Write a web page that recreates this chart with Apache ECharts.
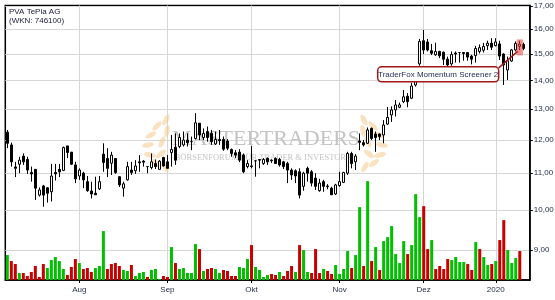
<!DOCTYPE html>
<html><head><meta charset="utf-8">
<script src="https://cdn.jsdelivr.net/npm/echarts@6/dist/echarts.min.js"></script>
<style>html,body{margin:0;padding:0;background:#fff}#c{width:555px;height:300px}</style>
</head><body><div id="c"></div>
<script>
// ---------- data ----------
const stockName = 'PVA TePla AG';
const stockId = '(WKN: 746100)';
const startDate = '2019-07-08';
const holidays = ['2019-10-03','2019-12-24','2019-12-25','2019-12-26','2019-12-31','2020-01-01'];
const tradingDayCount = 130;
const monthNames = ['Jan','Feb','Mär','Apr','Mai','Jun','Jul','Aug','Sep','Okt','Nov','Dez'];
const priceTicks = [9,10,11,12,13,14,15,16,17];

const open = [12.24,11.84,11.18,11.26,11.50,11.40,11.02,11.11,10.39,10.64,10.59,10.48,11.02,11.11,11.08,11.81,11.62,11.24,10.92,11.00,
10.76,10.50,10.44,10.56,11.56,11.43,11.29,11.43,10.90,10.58,10.81,11.09,11.07,11.33,11.35,11.19,11.16,11.28,11.11,11.46,
11.33,11.61,11.77,11.79,11.84,11.99,11.94,12.04,12.53,12.07,12.26,12.20,11.87,12.01,12.01,11.96,11.70,11.60,11.62,11.53,
11.19,11.21,11.36,11.40,11.28,11.43,11.36,11.43,11.40,11.33,11.28,11.09,11.07,11.04,10.63,11.14,11.04,10.86,10.51,10.76,
10.62,10.58,10.42,10.65,10.74,11.00,11.58,11.33,11.96,11.91,11.89,12.36,12.18,12.18,12.15,12.50,12.80,12.97,13.06,13.25,
13.44,13.37,13.84,14.62,15.53,15.48,15.13,14.97,15.10,15.07,14.80,14.62,15.04,15.06,15.06,15.06,14.92,14.94,15.10,15.15,
15.33,15.43,15.33,15.40,15.00,14.39,14.73,15.16,15.30,15.38];
const close = [11.89,11.33,11.14,11.38,11.33,11.09,10.98,10.58,10.53,10.39,10.44,10.92,10.98,11.04,11.76,11.61,11.26,10.84,11.09,10.81,
10.51,10.42,10.40,10.76,11.31,11.14,11.53,11.02,10.67,10.70,11.19,11.02,11.21,11.30,11.32,11.19,11.33,11.19,11.35,11.21,
11.14,11.70,11.38,12.07,11.99,11.91,11.94,12.54,12.15,12.20,12.07,11.94,12.01,11.97,11.71,11.74,11.58,11.53,11.38,11.04,
11.28,11.19,11.36,11.38,11.40,11.33,11.38,11.28,11.24,11.19,11.09,10.95,10.92,10.39,11.00,11.00,10.72,10.63,10.72,10.63,
10.64,10.40,10.67,10.76,11.02,11.58,11.28,11.50,11.92,11.84,12.31,12.04,12.07,12.10,12.47,12.72,12.97,13.14,13.14,13.42,
13.25,13.80,14.08,15.50,15.16,15.16,15.03,15.10,14.93,14.80,14.58,14.98,15.00,15.06,15.02,14.88,14.80,15.22,15.25,15.30,
15.43,15.27,15.48,14.92,14.58,14.74,15.16,15.42,15.39,15.22];
const low = [11.74,11.19,10.89,11.00,11.24,10.98,10.76,10.26,10.35,10.08,10.19,10.22,10.79,10.89,11.06,11.44,11.24,10.72,10.81,10.58,
10.48,10.30,10.39,10.53,11.04,10.89,10.95,10.98,10.61,10.35,10.79,10.95,10.98,11.04,11.19,11.00,11.11,11.12,11.11,11.19,
11.14,11.19,11.24,11.74,11.79,11.79,11.68,12.01,11.99,11.99,11.94,11.84,11.84,11.84,11.66,11.68,11.48,11.44,11.32,11.00,
11.14,11.14,10.90,11.14,11.24,11.24,11.30,11.27,11.19,11.12,10.72,10.81,10.72,10.30,10.51,10.76,10.63,10.53,10.48,10.48,
10.55,10.39,10.39,10.62,10.72,10.95,11.14,11.09,11.68,11.79,11.87,11.99,11.63,11.99,11.89,12.47,12.57,12.75,13.03,13.20,
13.06,13.34,13.78,14.55,15.00,15.10,14.96,14.93,14.84,14.58,14.52,14.55,14.67,14.67,14.74,14.74,14.60,14.67,15.02,15.06,
15.16,15.16,15.30,14.77,13.84,14.02,14.70,15.10,15.16,15.15];
const high = [12.31,11.91,11.33,11.48,11.58,11.48,11.19,11.11,10.60,10.67,10.60,11.27,11.27,11.27,11.79,11.81,11.62,11.33,11.14,11.04,
10.92,10.76,10.90,10.92,11.89,11.74,11.63,11.43,10.92,10.76,11.33,11.33,11.38,11.53,11.38,11.19,11.58,11.40,11.38,11.48,
11.53,12.15,12.20,12.20,12.26,12.20,12.10,12.86,12.53,12.36,12.42,12.31,12.26,12.31,12.10,12.02,11.73,11.68,11.71,11.58,
11.38,11.81,11.36,11.40,11.44,11.46,11.40,11.46,11.45,11.36,11.33,11.14,11.11,11.14,11.04,11.19,11.09,11.00,10.84,10.81,
10.69,10.62,10.70,11.04,11.04,11.63,11.63,11.56,12.20,11.99,12.39,12.39,12.26,12.20,12.63,13.07,13.09,13.31,13.22,13.66,
13.55,13.92,14.52,15.60,15.97,15.60,15.40,15.45,15.13,15.10,14.90,15.10,15.10,15.06,15.07,15.08,14.97,15.32,15.38,15.44,
15.53,15.63,15.63,15.53,15.03,14.90,15.20,15.50,15.53,15.45];
// volume (relative units), last day has no volume yet
const volume = [25,19,16,7,7,4,8,14,3,16,12,20,23,19,11,5,13,21,17,11,
12,8,12,14,49,11,16,17,14,10,9,15,4,7,8,3,10,11,1,4,
3,33,17,11,12,7,7,36,31,9,11,12,11,7,10,9,4,4,13,12,
21,35,13,10,3,5,6,5,8,4,9,14,8,35,30,8,7,31,7,11,
9,6,15,6,11,29,12,25,73,14,99,19,33,10,39,43,54,26,17,39,
26,35,86,63,74,31,40,11,14,11,21,20,23,18,18,16,10,38,31,23,
15,16,19,40,60,30,17,22,29,null];
// g = volume bar green, r = red (10 days per chunk)
const volumeDir = ['grrgrrrrrr','gggggrrrgr','rrgggrrrrg','grgggrgggr','rgrgggggrg','rrggrrrrgg',
  'grggggrrgr','rrgrggrrrg','rrggggrggr','grgrgggggg','rgggrrgrrr','rggggrrgrg','grgrrgggr'].join('');
const signalName = 'TraderFox Momentum Screener 2';
const signalIndex = 128;
const signalRange = [14.95, 15.58];
const watermarkTitle = 'MASTERTRADERS';
const watermarkSub = 'BÖRSENFORUM FÜR TRADER & INVESTOREN';

// ---------- build ----------
const dates = [];
(function () {
  let d = new Date(startDate + 'T00:00:00Z');
  while (dates.length < tradingDayCount) {
    const s = d.toISOString().slice(0, 10);
    const wd = d.getUTCDay();
    if (wd !== 0 && wd !== 6 && holidays.indexOf(s) < 0) dates.push(s);
    d = new Date(d.getTime() + 86400000);
  }
})();
function isMonthStart(i) {
  return i > 0 && i < dates.length && dates[i].slice(5, 7) !== dates[i - 1].slice(5, 7);
}
function monthLabel(v) {
  if (!v) return '';
  const m = +v.slice(5, 7);
  return m === 1 ? v.slice(0, 4) : monthNames[m - 1];
}
const GREEN = '#00c000', RED = '#c80000';
const FONT = 'Liberation Sans';
const TXT = '#26304a';

const candleData = dates.map((d, i) => [open[i], close[i], low[i], high[i]]);
const volData = dates.map((d, i) => volume[i] == null ? null : ({
  value: volume[i],
  itemStyle: { color: volumeDir[i] === 'g' ? GREEN : RED }
}));

const chart = echarts.init(document.getElementById('c'), null, { renderer: 'canvas' });
chart.setOption({
  animation: false,
  backgroundColor: '#fff',
  title: {
    text: stockName + '\n' + stockId, left: 9, top: 7, padding: 0,
    textStyle: { fontSize: 8, lineHeight: 9.5, fontWeight: 'normal', color: '#1b1b3c', fontFamily: FONT }
  },
  grid: {
    left: 5.3, right: 25.2, top: 5.5, bottom: 20, containLabel: false, outerBoundsMode: 'none',
    show: true, borderColor: '#000', borderWidth: 1.5, backgroundColor: 'transparent'
  },
  xAxis: {
    type: 'category', data: dates, max: dates.length, boundaryGap: true,
    axisLine: { show: true, onZero: false, lineStyle: { color: '#000', width: 1.5 } },
    axisTick: { show: true, alignWithLabel: true, interval: (i) => isMonthStart(i), length: 3, lineStyle: { color: '#000' } },
    axisLabel: { interval: (i) => isMonthStart(i), formatter: monthLabel, fontSize: 8, color: TXT, margin: 6, fontFamily: FONT },
    splitLine: { show: true, alignWithLabel: true, interval: (i) => isMonthStart(i), lineStyle: { color: '#d6d6d6', width: 1 } }
  },
  yAxis: [{
    type: 'log', logBase: 10, position: 'right', min: 8.33, max: 17.02, scale: true,
    axisLine: { show: true, onZero: false, lineStyle: { color: '#000', width: 1.5 } },
    axisTick: { show: true, customValues: priceTicks, length: 3, lineStyle: { color: '#000' } },
    axisLabel: { customValues: priceTicks, formatter: (v) => (+v).toFixed(2).replace('.', ','), fontSize: 8, color: TXT, margin: 4, fontFamily: FONT },
    splitLine: { show: true, lineStyle: { color: '#d6d6d6', width: 1 } }
  }, {
    type: 'value', min: 0, max: 275, show: false
  }],
  series: [{
    type: 'bar', name: 'Volumen', data: volData, xAxisIndex: 0, yAxisIndex: 1, barWidth: 3, silent: true, z: 2
  }, {
    type: 'candlestick', name: stockName, data: candleData, xAxisIndex: 0, yAxisIndex: 0, barWidth: 2.6, z: 3, silent: true,
    itemStyle: { color: '#fff', color0: '#000', borderColor: '#000', borderColor0: '#000', borderColorDoji: '#000', borderWidth: 1 }
  }]
});

// ---------- decorations ----------
const gfx = [];
// watermark laurels
const leaves = [[166,120,-0.5],[157,126,-0.8],[151,135,-1.1],[148,145,-1.4],[150,155,-1.8],[156,163,-2.2],[165,167,-2.6],
                [167,131,-0.2],[162,142,-0.4],[161,154,-0.9]];
leaves.forEach(([x, y, r]) => {
  gfx.push({ type: 'ellipse', x: x, y: y, rotation: r, shape: { cx: 0, cy: 0, rx: 2.6, ry: 6 }, style: { fill: 'rgba(246,200,140,0.55)' }, z: 1, silent: true });
  gfx.push({ type: 'ellipse', x: 530 - x, y: y, rotation: -r, shape: { cx: 0, cy: 0, rx: 2.6, ry: 6 }, style: { fill: 'rgba(246,200,140,0.55)' }, z: 1, silent: true });
});
gfx.push({ type: 'text', x: 266, y: 128, z: 1, silent: true,
  style: { text: watermarkTitle, fill: '#c4c4c4', font: '22px "Liberation Serif"', textAlign: 'center', textVerticalAlign: 'top' } });
gfx.push({ type: 'text', x: 266, y: 153, z: 1, silent: true,
  style: { text: watermarkSub, fill: '#c4c4c4', font: '8.5px "Liberation Serif"', textAlign: 'center', textVerticalAlign: 'top' } });

// signal annotation
const cx = chart.convertToPixel({ xAxisIndex: 0 }, dates[signalIndex]);
const bw = chart.convertToPixel({ xAxisIndex: 0 }, dates[1]) - chart.convertToPixel({ xAxisIndex: 0 }, dates[0]);
const yTop = chart.convertToPixel({ yAxisIndex: 0 }, signalRange[1]);
const yBot = chart.convertToPixel({ yAxisIndex: 0 }, signalRange[0]);
const bx = cx - 0.78 * bw, bwid = 1.56 * bw;
const lblW = 121, lblH = 15;
const lblRight = bx - 18, lblTop = yBot + 11.5;
gfx.push({ type: 'rect', z: 100, silent: true, shape: { x: bx, y: yTop, width: bwid, height: yBot - yTop }, style: { fill: 'rgba(238,70,70,0.6)' } });
gfx.push({ type: 'line', z: 100, silent: true, shape: { x1: lblRight, y1: lblTop + 1, x2: bx + 1, y2: yBot - 4 }, style: { stroke: '#a81818', lineWidth: 1.5 } });
gfx.push({ type: 'rect', z: 100, silent: true, shape: { x: lblRight - lblW, y: lblTop, width: lblW, height: lblH, r: 4 }, style: { fill: '#fff', stroke: '#a01818', lineWidth: 1.5 } });
gfx.push({ type: 'text', z: 101, silent: true, x: lblRight - lblW / 2, y: lblTop + lblH / 2 + 0.5,
  style: { text: signalName, fill: '#1e2a55', font: '8px "Liberation Sans"', textAlign: 'center', textVerticalAlign: 'middle' } });

chart.setOption({ graphic: gfx });
</script>
</body></html>
